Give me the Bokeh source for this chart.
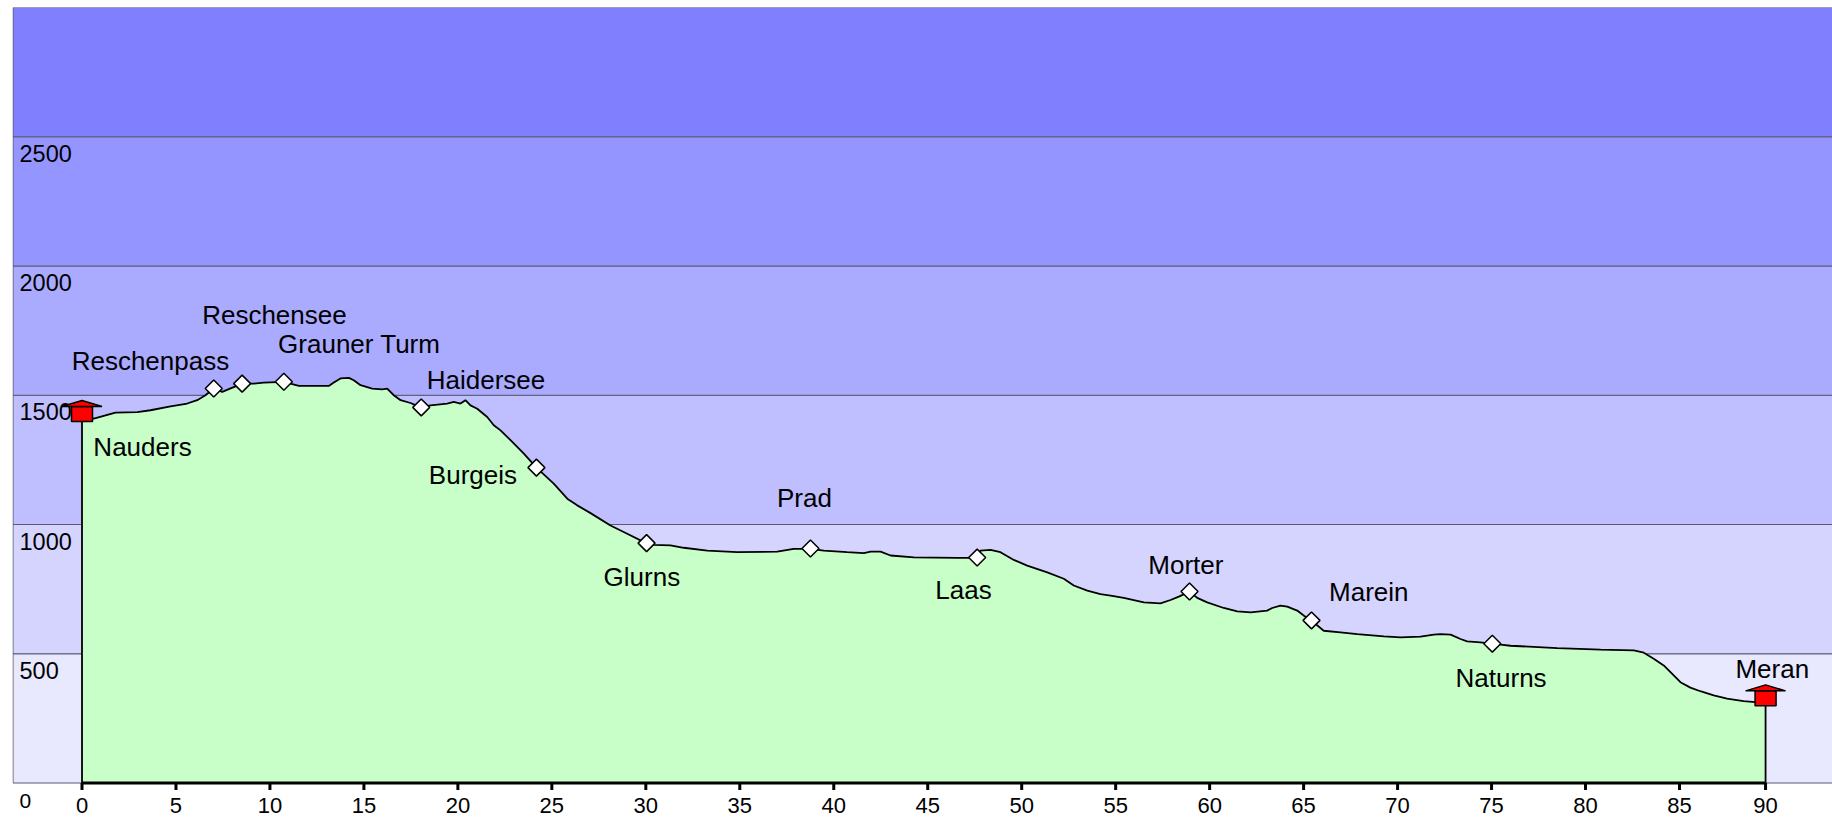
import math
from bokeh.plotting import figure
from bokeh.models import Range1d, ColumnDataSource
from bokeh.core.properties import value
from bokeh.embed import file_html
from bokeh.resources import INLINE

# ---------------- data ----------------
dist_km = [0.00, 0.63, 1.78, 2.94, 3.64, 4.71, 5.60, 6.13, 6.57, 7.01, 7.46, 8.52, 9.14, 9.67,
           10.74, 11.54, 13.13, 13.40, 13.75, 14.20, 14.46, 14.82, 15.44, 15.97, 16.24, 16.59,
           16.95, 17.48, 18.05, 18.54, 19.43, 19.78, 20.14, 20.40, 20.67, 21.03, 21.56, 21.91,
           22.27, 22.80, 23.51, 24.18, 25.10, 25.82, 26.35, 27.06, 28.12, 29.01, 30.04, 30.42,
           31.31, 32.02, 33.27, 34.86, 36.99, 37.87, 38.76, 39.47, 40.71, 41.60, 41.96, 42.49,
           43.02, 44.26, 46.57, 47.63, 47.80, 48.34, 48.87, 49.58, 50.29, 51.36, 52.24, 52.77,
           53.49, 54.19, 54.73, 55.43, 56.50, 57.38, 57.92, 58.36, 58.93, 59.34, 59.87, 60.75,
           61.47, 62.18, 63.06, 63.33, 63.77, 64.13, 64.66, 65.02, 65.42, 66.07, 66.96, 67.85,
           69.27, 70.16, 71.22, 71.93, 72.28, 72.82, 73.35, 73.70, 74.41, 75.04, 75.48, 76.01,
           78.49, 80.80, 82.57, 83.10, 83.63, 84.16, 84.52, 85.05, 85.58, 86.11, 86.82, 87.53,
           88.41, 89.04, 89.58]
elev_m = [1410, 1410, 1433, 1435, 1442, 1457, 1468, 1481, 1500, 1526, 1513, 1545, 1545, 1549,
          1552, 1536, 1536, 1549, 1565, 1567, 1558, 1539, 1526, 1523, 1526, 1500,
          1481, 1470, 1452, 1461, 1468, 1474, 1468, 1481, 1461, 1448, 1416, 1384,
          1364, 1326, 1274, 1220, 1158, 1100, 1074, 1044, 996, 964, 927, 921,
          919, 910, 899, 893, 895, 906, 906, 899, 893, 889, 895, 895,
          880, 873, 871, 871, 899, 902, 893, 863, 841, 815, 790, 764,
          744, 731, 725, 716, 699, 695, 708, 721, 740, 716, 699, 677,
          664, 660, 667, 677, 686, 682, 667, 647, 628, 589, 583, 576,
          567, 563, 566, 574, 576, 574, 557, 548, 544, 538, 535, 531,
          522, 516, 513, 504, 481, 455, 429, 390, 369, 355, 339, 326,
          317, 313, 310]

# waypoints (first and last are towns drawn as houses)
place_names = ["Nauders", "Reschenpass", "Reschensee", "Grauner Turm", "Haidersee", "Burgeis",
               "Glurns", "Prad", "Laas", "Morter", "Marein", "Naturns", "Meran"]
place_km = [0.00, 7.01, 8.52, 10.74, 18.05, 24.18, 30.04, 38.76, 47.63, 58.93, 65.42, 75.04, 89.58]
place_elev = [1410, 1526, 1545, 1552, 1453, 1220, 928, 907, 872, 741, 629, 539, 310]

# altitude bands
band_bottoms = [0, 500, 1000, 1500, 2000, 2500]
band_tops = [500, 1000, 1500, 2000, 2500, 3000]
band_colors = ["#E8E8FF", "#D4D4FF", "#BFBFFF", "#AAAAFF", "#9595FF", "#8080FF"]

y_tick_values = [0, 500, 1000, 1500, 2000, 2500]
y_tick_labels = ["0", "500", "1000", "1500", "2000", "2500"]
x_tick_values = [0, 5, 10, 15, 20, 25, 30, 35, 40, 45, 50, 55, 60, 65, 70, 75, 80, 85]
x_tick_labels = ["0", "5", "10", "15", "20", "25", "30", "35", "40", "45", "50", "55",
                 "60", "65", "70", "75", "80", "85", "90"]

# label layout (screen px offsets from waypoint; +dy = down)
label_dx = [60.5, -63.3, 32.3, 75.4, 64.8, -63.5, -4.7, -6.0, -13.7, -3.7, 57.3, 8.8, 6.7]
label_dy = [37.7, -18.3, -59.3, -29.0, -18.0, 17.0, 43.0, -41.0, 41.7, -17.0, -19.0, 43.4, -25.0]

# ---------------- layout ----------------
W, H = 1832, 820
FL, FT = 12, 7
KX = 18.794            # px per km
KY = 775.5 / 3000.0    # px per m
X0 = -69.5 / KX
X1 = X0 + (W - FL) / KX
Y1 = 3000
Y0 = Y1 - (H - FT) / KY
FONT = "Liberation Sans"
SHIFT = 9.3            # renderer places alphabetic baseline this much lower

p = figure(width=W, height=H, x_range=Range1d(X0, X1), y_range=Range1d(Y0, Y1),
           output_backend="svg", toolbar_location=None,
           x_axis_location=None, y_axis_location=None,
           min_border_left=FL, min_border_right=0, min_border_top=FT, min_border_bottom=0)
p.xgrid.visible = False
p.ygrid.visible = False
p.outline_line_color = None
p.background_fill_color = "white"
p.border_fill_color = "white"

# bands
p.quad(left=X0 + 0.5 / KX, right=X1 + 1, bottom=band_bottoms, top=band_tops,
       fill_color=band_colors, line_color="#5a5a6e", line_width=1)

# altitude labels (inside the bands, "0" below the baseline)
p.text(x=[X0] * len(y_tick_values), y=y_tick_values, text=y_tick_labels,
       x_offset=[7, 7, 7, 7, 7, 7],
       y_offset=[27 - SHIFT, 26 - SHIFT, 26 - SHIFT, 26 - SHIFT, 26 - SHIFT, 26 - SHIFT],
       text_font_size=["21px", "23.5px", "23.5px", "23.5px", "23.5px", "23.5px"],
       text_align="left", text_baseline="alphabetic",
       text_font=value(FONT), text_color="black")

# profile
end_km = dist_km[-1]
xs = [dist_km[0]] + dist_km + [end_km]
ys = [0] + elev_m + [0]
p.patch(xs, ys, fill_color="#C8FFC8", line_color="black", line_width=1.8)

# distance axis drawn with glyphs
ticks = x_tick_values + [end_km]
p.segment(x0=[0], y0=[0], x1=[end_km], y1=[0], line_color="black", line_width=3)
p.segment(x0=ticks, y0=[0] * len(ticks), x1=ticks, y1=[-7 / KY] * len(ticks),
          line_color="black", line_width=3)
p.text(x=ticks, y=[0] * len(ticks), text=x_tick_labels, y_offset=32 - SHIFT,
       text_align="center", text_baseline="alphabetic",
       text_font=value(FONT), text_font_size="22px", text_color="black")

# waypoint diamonds
p.scatter(place_km[1:-1], place_elev[1:-1], marker="square", angle=math.pi / 4, size=12,
          fill_color="white", line_color="black", line_width=1.5)

# houses at start / end
hx = [place_km[0], place_km[-1]]
hy = [place_elev[0] + 4.5 / KY, place_elev[-1] + 4.5 / KY]
p.rect(x=hx, y=hy, width=21, height=15, width_units="screen", height_units="screen",
       fill_color="#FF0000", line_color="black", line_width=1.5)
roof_xs, roof_ys = [], []
for x, y in zip(hx, hy):
    base = y + 7.5 / KY
    roof_xs.append([x - 20 / KX, x + 20 / KX, x])
    roof_ys.append([base, base, base + 6 / KY])
p.patches(roof_xs, roof_ys, fill_color="#FF0000", line_color="black", line_width=1.5)

# place labels
src = ColumnDataSource(dict(x=place_km, y=place_elev, t=place_names, dx=label_dx,
                            dy=[d - SHIFT for d in label_dy]))
p.text(x="x", y="y", text="t", x_offset="dx", y_offset="dy", source=src,
       text_align="center", text_baseline="alphabetic",
       text_font=value(FONT), text_font_size="26px", text_color="black")

open("out.html", "w").write(file_html(p, INLINE))
